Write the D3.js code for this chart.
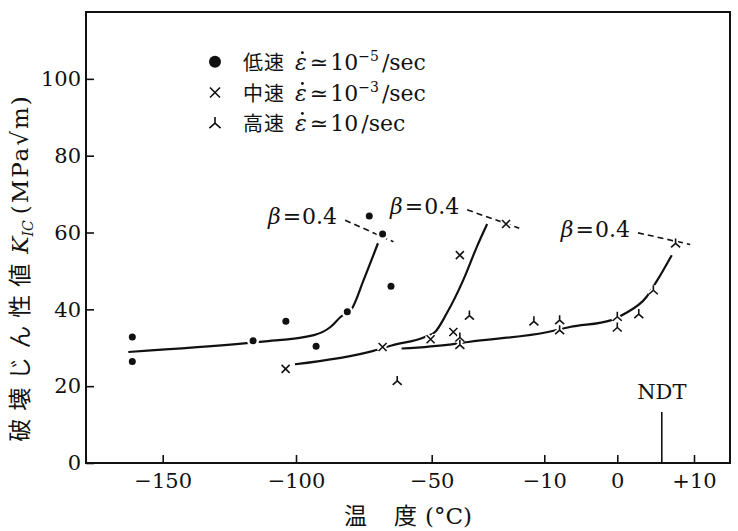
<!DOCTYPE html>
<html>
<head>
<meta charset="utf-8">
<script src="https://cdn.jsdelivr.net/npm/d3@7"></script>
<style>
  body { margin: 0; background: #fff; }
  text { font-family: "DejaVu Serif", "Liberation Serif", serif; fill: #111; }
  .cjk { font-family: "Noto Sans CJK JP", sans-serif; }
</style>
</head>
<body>
<div id="chart"></div>
<script>
// temperature (C) vs fracture toughness K_IC (MPa sqrt m)
var lowT  = [-161.4, -161.4, -116.1, -103.8, -92.6, -81.1, -73.0, -68.1, -65.0];
var lowK  = [32.8, 26.4, 31.8, 36.9, 30.4, 39.4, 64.3, 59.6, 46.0];
var midT  = [-103.9, -68.1, -50.4, -42.3, -40.0, -23.6];
var midK  = [24.5, 30.2, 32.2, 34.1, 54.1, 62.2];
var highT = [-62.7, -36.6, -40.0, -40.0, -13.7, -7.9, -7.9, 0, 0, 2.8, 4.7, 7.6];
var highK = [21.5, 38.5, 32.8, 30.9, 37.0, 37.3, 34.7, 38.2, 35.4, 38.9, 45.1, 57.3];

// hand drawn trend curves
var lowCurveT  = [-162.9, -118.5, -112.5, -93.4, -87.3, -83.6, -79.4, -75.1, -69.8];
var lowCurveK  = [28.9, 31.2, 31.6, 33.3, 35.4, 38.0, 40.2, 47.6, 57.2];
var midCurveT  = [-100.4, -71.5, -64.8, -52.5, -48.8, -44.7, -38.8, -34.0, -30.3];
var midCurveK  = [25.7, 29.2, 30.6, 32.8, 34.1, 38.9, 47.6, 56.2, 62.2];
var highCurveT = [-61.1, -42.9, -37.0, -9.5, -6.5, -0.8, 1.0, 3.8, 5.1, 7.1];
var highCurveK = [29.8, 30.9, 31.5, 34.1, 35.4, 37.2, 38.9, 43.2, 47.2, 54.1];

// beta = 0.4 dashed lines
var lowDashT  = [-81.9, -64.1];
var lowDashK  = [63.2, 57.6];
var midDashT  = [-37.4, -18.9];
var midDashK  = [65.9, 61.1];
var highDashT = [2.7, 9.5];
var highDashK = [59.9, 56.9];

var xTicks = [-150, -100, -50, -10, 0, 10];
var xTickLabels = ["\u2212150", "\u2212100", "\u221250", "\u221210", "0", "+10"];
var yTicks = [0, 20, 40, 60, 80, 100];
var ndtT = 5.8;

var W = 738, H = 531;
var margin = {top: 12, right: 8, bottom: 68, left: 86};
var width = W - margin.left - margin.right;
var height = H - margin.top - margin.bottom;

var svg = d3.select("#chart").append("svg")
    .attr("width", W)
    .attr("height", H);

var g = svg.append("g")
    .attr("transform", "translate(" + margin.left + "," + margin.top + ")");

// the printed temperature axis is not uniform, so a piecewise scale
var x = d3.scaleLinear()
    .domain(xTicks)
    .range([76.7, 210, 345.7, 458.3, 531.3, 608]);

var y = d3.scaleLinear()
    .domain([0, 117.4])
    .range([height, 0]);

var xAxis = d3.axisBottom(x)
    .tickValues(xTicks)
    .tickFormat(function(d, i) { return xTickLabels[i]; })
    .tickSizeInner(-8)
    .tickSizeOuter(0)
    .tickPadding(10);

var yAxis = d3.axisLeft(y)
    .tickValues(yTicks)
    .tickSizeInner(-8)
    .tickSizeOuter(0)
    .tickPadding(5);

var gx = g.append("g")
    .attr("transform", "translate(0," + height + ")")
    .call(xAxis);
var gy = g.append("g").call(yAxis);

[gx, gy].forEach(function(a) {
    a.select(".domain").remove();
    a.selectAll("line").attr("stroke", "#111").attr("stroke-width", 1.6);
    a.selectAll("text")
        .style("font-family", "'DejaVu Serif', serif")
        .style("font-size", "21px")
        .attr("fill", "#111");
});

// frame
g.append("rect")
    .attr("x", 0).attr("y", 0)
    .attr("width", width).attr("height", height)
    .attr("fill", "none")
    .attr("stroke", "#111")
    .attr("stroke-width", 2);

// NDT marker
g.append("line")
    .attr("x1", x(ndtT)).attr("x2", x(ndtT))
    .attr("y1", height).attr("y2", height - 51)
    .attr("stroke", "#111").attr("stroke-width", 1.6);
g.append("text")
    .attr("x", x(ndtT))
    .attr("y", height - 64)
    .attr("text-anchor", "middle")
    .style("font-size", "21px")
    .text("NDT");

// curves
var line = d3.line()
    .x(function(d) { return x(d[0]); })
    .y(function(d) { return y(d[1]); })
    .curve(d3.curveMonotoneX);

var straight = d3.line()
    .x(function(d) { return x(d[0]); })
    .y(function(d) { return y(d[1]); });

[[lowCurveT, lowCurveK], [midCurveT, midCurveK], [highCurveT, highCurveK]].forEach(function(c) {
    g.append("path")
        .datum(d3.zip(c[0], c[1]))
        .attr("d", line)
        .attr("fill", "none")
        .attr("stroke", "#111")
        .attr("stroke-width", 2.2);
});

[[lowDashT, lowDashK], [midDashT, midDashK], [highDashT, highDashK]].forEach(function(c) {
    var pts = d3.zip(c[0], c[1]);
    g.append("path")
        .datum(pts)
        .attr("d", straight)
        .attr("fill", "none")
        .attr("stroke", "#111")
        .attr("stroke-width", 1.6)
        .attr("stroke-dasharray", "6,4");
    g.append("text")
        .attr("x", x(pts[0][0]) - 8)
        .attr("y", y(pts[0][1]) + 4)
        .attr("text-anchor", "end")
        .style("font-size", "22px")
        .html("<tspan font-style='italic'>\u03b2</tspan><tspan dx='2'>=</tspan><tspan dx='1'>0.4</tspan>");
});

// markers
var crossPath = "M-4,-4L4,4M-4,4L4,-4";
var triPath = "M0,-4.5V0.5M0,0.5L-4.5,4.5M0,0.5L4.5,4.5";

function drawDots(sel, T, K, r) {
    var pts = d3.zip(T, K);
    sel.selectAll(null).data(pts).enter().append("circle")
        .attr("cx", function(d) { return x(d[0]); })
        .attr("cy", function(d) { return y(d[1]); })
        .attr("r", r + 2.5)
        .attr("fill", "#fff");
    sel.selectAll(null).data(pts).enter().append("circle")
        .attr("cx", function(d) { return x(d[0]); })
        .attr("cy", function(d) { return y(d[1]); })
        .attr("r", r)
        .attr("fill", "#111");
}

function drawGlyphs(sel, T, K, p) {
    var pts = d3.zip(T, K);
    sel.selectAll(null).data(pts).enter().append("path")
        .attr("transform", function(d) { return "translate(" + x(d[0]) + "," + y(d[1]) + ")"; })
        .attr("d", p)
        .attr("fill", "none")
        .attr("stroke", "#fff")
        .attr("stroke-width", 5);
    sel.selectAll(null).data(pts).enter().append("path")
        .attr("transform", function(d) { return "translate(" + x(d[0]) + "," + y(d[1]) + ")"; })
        .attr("d", p)
        .attr("fill", "none")
        .attr("stroke", "#111")
        .attr("stroke-width", 1.6);
}

drawDots(g.append("g"), lowT, lowK, 3.5);
drawGlyphs(g.append("g"), midT, midK, crossPath);
drawGlyphs(g.append("g"), highT, highK, triPath);

// legend
var legendRows = [
    {name: "低速", exp: "\u22125", kind: "dot"},
    {name: "中速", exp: "\u22123", kind: "cross"},
    {name: "高速", exp: "", kind: "tri"}
];
var legY = [49.7, 80.5, 110.5];
var leg = g.append("g").attr("transform", "translate(129,0)");

legendRows.forEach(function(r, i) {
    var row = leg.append("g").attr("transform", "translate(0," + legY[i] + ")");
    if (r.kind == "dot") {
        row.append("circle").attr("r", 6).attr("fill", "#111");
    } else {
        row.append("path")
            .attr("d", r.kind == "cross" ? crossPath : triPath)
            .attr("transform", "scale(1.25)")
            .attr("fill", "none")
            .attr("stroke", "#111")
            .attr("stroke-width", 1.3);
    }
    var t = row.append("text")
        .attr("x", 28)
        .attr("y", 8)
        .style("font-size", "22px");
    t.append("tspan").attr("class", "cjk").style("font-size", "20px").attr("letter-spacing", 1).text(r.name);
    t.append("tspan").attr("dx", 10).attr("font-style", "italic").text("\u03b5");
    t.append("tspan").attr("dx", 3).text("\u2243");
    t.append("tspan").attr("dx", 2).text("10");
    if (r.exp) {
        t.append("tspan").attr("dy", -9).style("font-size", "14px").text(r.exp);
        t.append("tspan").attr("dy", 9).attr("dx", 3).text("/sec");
    } else {
        t.append("tspan").attr("dx", 3).text("/sec");
    }
    // dot over the epsilon (strain rate)
    var ext = t.node().getExtentOfChar(2);
    row.append("circle")
        .attr("cx", ext.x + ext.width / 2 + 1.5)
        .attr("cy", -9)
        .attr("r", 1.4)
        .attr("fill", "#111");
});

// axis titles
svg.append("text")
    .attr("transform", "translate(28,268) rotate(-90)")
    .attr("text-anchor", "middle")
    .style("font-size", "23px")
    .html("<tspan class='cjk' letter-spacing='8'>破壊じん性値</tspan>" +
          "<tspan dx='2' font-style='italic'>K</tspan>" +
          "<tspan font-style='italic' font-size='14px' dy='5'>IC</tspan>" +
          "<tspan dy='-5' dx='6' letter-spacing='2'>(MPa\u221am)</tspan>");

svg.append("text")
    .attr("x", margin.left + width / 2)
    .attr("y", 524)
    .attr("text-anchor", "middle")
    .style("font-size", "23px")
    .html("<tspan class='cjk'>温</tspan><tspan class='cjk' dx='27'>度</tspan><tspan dx='8'>(°C)</tspan>");
</script>
</body>
</html>
